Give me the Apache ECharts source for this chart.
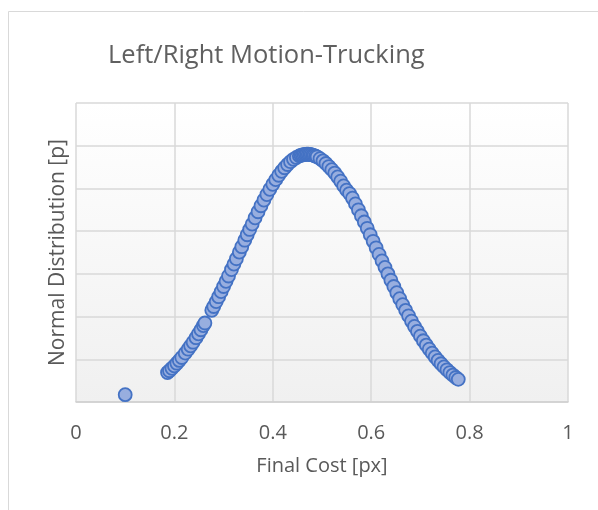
<!DOCTYPE html>
<html>
<head>
<meta charset="utf-8">
<script src="https://cdn.jsdelivr.net/npm/echarts@6/dist/echarts.min.js"></script>
<style>
html,body{margin:0;padding:0;background:#fff;}
#chart{width:598px;height:510px;}
</style>
</head>
<body>
<div id="chart"></div>
<script>
const chartTitle = "Left/Right Motion-Trucking";
const xAxisTitle = "Final Cost [px]";
const yAxisTitle = "Normal Distribution [p]";
const xTicks = [0, 0.2, 0.4, 0.6, 0.8, 1];

const finalCost = [
  0.100, 0.186, 0.190, 0.195, 0.200, 0.205, 0.210, 0.215, 0.222, 0.228,
  0.233, 0.238, 0.244, 0.249, 0.254, 0.259, 0.262, 0.276, 0.280, 0.285,
  0.290, 0.295, 0.300, 0.305, 0.310, 0.316, 0.321, 0.326, 0.332, 0.337,
  0.343, 0.348, 0.353, 0.358, 0.364, 0.370, 0.376, 0.382, 0.388, 0.394,
  0.400, 0.406, 0.412, 0.418, 0.424, 0.430, 0.436, 0.442, 0.448, 0.454,
  0.457, 0.460, 0.463, 0.466, 0.469, 0.472, 0.475, 0.478, 0.481, 0.484,
  0.487, 0.490, 0.496, 0.502, 0.508, 0.514, 0.520, 0.526, 0.532, 0.538,
  0.544, 0.550, 0.556, 0.562, 0.568, 0.574, 0.580, 0.586, 0.592, 0.598,
  0.604, 0.610, 0.616, 0.622, 0.628, 0.634, 0.640, 0.646, 0.652, 0.658,
  0.664, 0.670, 0.676, 0.682, 0.688, 0.694, 0.700, 0.706, 0.712, 0.718,
  0.724, 0.730, 0.736, 0.742, 0.748, 0.754, 0.760, 0.766, 0.772, 0.777
];
const normalDist = [
  0.086, 0.345, 0.366, 0.394, 0.423, 0.454, 0.487, 0.521, 0.572, 0.618,
  0.658, 0.700, 0.753, 0.798, 0.846, 0.895, 0.925, 1.073, 1.118, 1.175,
  1.233, 1.292, 1.352, 1.413, 1.475, 1.550, 1.614, 1.677, 1.754, 1.818,
  1.894, 1.958, 2.020, 2.082, 2.156, 2.227, 2.297, 2.364, 2.428, 2.490,
  2.548, 2.603, 2.654, 2.700, 2.742, 2.780, 2.813, 2.841, 2.863, 2.881,
  2.887, 2.892, 2.896, 2.899, 2.900, 2.900, 2.898, 2.895, 2.890, 2.885,
  2.878, 2.870, 2.849, 2.823, 2.792, 2.756, 2.720, 2.680, 2.635, 2.585,
  2.530, 2.480, 2.440, 2.386, 2.319, 2.250, 2.180, 2.107, 2.033, 1.958,
  1.881, 1.805, 1.728, 1.652, 1.576, 1.500, 1.425, 1.352, 1.280, 1.209,
  1.140, 1.073, 1.009, 0.946, 0.885, 0.827, 0.771, 0.717, 0.666, 0.618,
  0.572, 0.528, 0.487, 0.448, 0.411, 0.377, 0.345, 0.315, 0.287, 0.265
];

const points = finalCost.map((x, i) => [x, normalDist[i]]);
const FONT = '"Open Sans", sans-serif';
const chart = echarts.init(document.getElementById('chart'), null, {renderer: 'canvas'});
chart.setOption({
  animation: false,
  backgroundColor: '#ffffff',
  graphic: [{
    type: 'rect', shape: {x: 8.5, y: 11.5, width: 700, height: 600},
    style: {fill: 'none', stroke: '#d9d9d9', lineWidth: 1}, silent: true, z: -10
  }],
  title: {
    text: chartTitle, left: 103, top: 38,
    textStyle: {fontFamily: FONT, fontSize: 25.5, fontWeight: 'normal', color: '#606060'}
  },
  grid: {
    left: 76, top: 103, right: 30, bottom: 108, show: true, borderWidth: 0,
    backgroundColor: new echarts.graphic.LinearGradient(0, 0, 0, 1, [
      {offset: 0, color: '#ffffff'}, {offset: 1, color: '#f0f0f0'}
    ])
  },
  xAxis: {
    type: 'value', min: xTicks[0], max: xTicks[xTicks.length - 1], interval: 0.2,
    name: xAxisTitle, nameLocation: 'middle', nameGap: 54,
    nameTextStyle: {fontFamily: FONT, fontSize: 20, color: '#595959'},
    axisLine: {show: true, lineStyle: {color: '#d0d0d0', width: 1.5}},
    axisTick: {show: false},
    axisLabel: {fontFamily: FONT, fontSize: 20, color: '#595959', margin: 21,
      formatter: v => String(+v.toFixed(1))},
    splitLine: {show: true, lineStyle: {color: '#d9d9d9', width: 1.5}}
  },
  yAxis: {
    type: 'value', min: 0, max: 3.5, interval: 0.5,
    name: yAxisTitle, nameLocation: 'middle', nameGap: 7,
    nameTextStyle: {fontFamily: FONT, fontSize: 21, color: '#595959'},
    axisLine: {show: false}, axisTick: {show: false},
    axisLabel: {show: false},
    splitLine: {show: true, lineStyle: {color: '#d9d9d9', width: 1.5}}
  },
  series: [{
    type: 'scatter', data: points, symbol: 'circle', symbolSize: 13,
    itemStyle: {color: '#98AEDF', borderColor: '#4472C4', borderWidth: 1.8, opacity: 1}
  }]
});
</script>
</body>
</html>
